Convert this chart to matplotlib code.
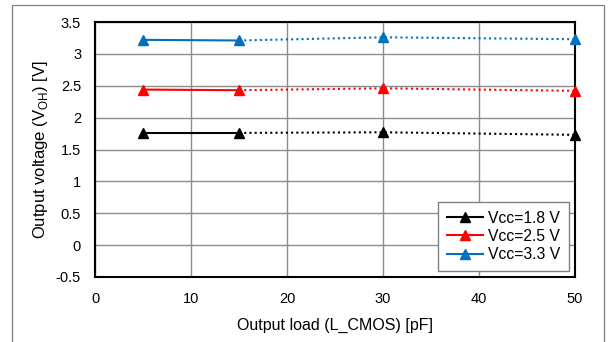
import matplotlib
matplotlib.use('Agg')
import matplotlib.pyplot as plt
from matplotlib.patches import Rectangle


load_pf = [5, 15, 30, 50]
vcc_labels = ['Vcc=1.8 V', 'Vcc=2.5 V', 'Vcc=3.3 V']
voh_18 = [1.76, 1.76, 1.77, 1.73]
voh_25 = [2.44, 2.43, 2.46, 2.42]
voh_33 = [3.22, 3.21, 3.26, 3.23]
colors = ['#000000', '#ff0000', '#0070c0']

x_ticks = [0, 10, 20, 30, 40, 50]
y_ticks = [-0.5, 0, 0.5, 1, 1.5, 2, 2.5, 3, 3.5]
y_tick_labels = ['-0.5', '0', '0.5', '1', '1.5', '2', '2.5', '3', '3.5']


def main():
    plt.rcParams['font.family'] = ['Liberation Sans', 'DejaVu Sans']
    fig = plt.figure(figsize=(6.08, 3.42), dpi=100)
    fig.patches.append(Rectangle((12 / 608, -0.05), 592 / 608, 1.05 - 5 / 342,
                                 transform=fig.transFigure, fill=False,
                                 edgecolor='#808080', linewidth=0.9))
    ax = fig.add_axes([95 / 608, 1 - 277 / 342, 480 / 608, 255 / 342])

    for vals, color, label in zip([voh_18, voh_25, voh_33], colors, vcc_labels):
        ax.plot(load_pf[:2], vals[:2], color=color, linewidth=1.5, marker='^',
                markersize=7.5, label=label, clip_on=False, zorder=3)
        ax.plot(load_pf[1:], vals[1:], color=color, linewidth=1.5, linestyle=(0, (1, 1.5)),
                marker='^', markersize=7.5, markevery=[1, 2], clip_on=False, zorder=3)

    ax.set_xlim(0, 50)
    ax.set_ylim(-0.5, 3.5)
    ax.set_xticks(x_ticks)
    ax.set_yticks(y_ticks)
    ax.set_yticklabels(y_tick_labels)
    ax.tick_params(length=0, labelsize=10.5)
    ax.tick_params(axis='x', pad=11)
    ax.tick_params(axis='y', pad=10)
    ax.grid(True, color='#8c8c8c', linewidth=1.0)
    ax.set_axisbelow(True)
    for sp in ax.spines.values():
        sp.set_linewidth(1.5)
        sp.set_color('black')

    ax.set_xlabel('Output load (L_CMOS) [pF]', fontsize=11.5, labelpad=8)
    ax.set_ylabel('Output voltage (V$_{\\mathregular{OH}}$) [V]', fontsize=12, labelpad=4)

    leg = ax.legend(loc='lower right', fontsize=11.3, fancybox=False, framealpha=1,
                    edgecolor='#808080', borderaxespad=0.4, handlelength=2.3,
                    handletextpad=0.3, labelspacing=0.2, borderpad=0.55)
    leg.get_frame().set_linewidth(1.0)

    fig.savefig('out.png', dpi=100)
    plt.close(fig)


if __name__ == '__main__':
    main()
